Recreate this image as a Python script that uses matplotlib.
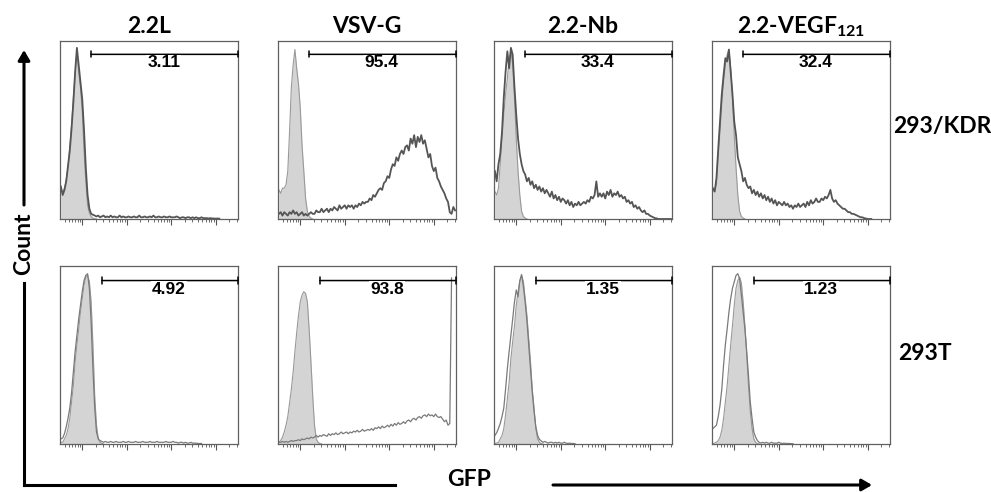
import matplotlib
matplotlib.use('Agg')
import matplotlib.pyplot as plt
import numpy as np

plt.rcParams['font.family'] = ['Lato', 'DejaVu Sans']
plt.rcParams['mathtext.fontset'] = 'custom'
plt.rcParams['mathtext.rm'] = 'Lato:bold'
plt.rcParams['mathtext.bf'] = 'Lato:bold'

# GFP channel, log10 units, 100 bins from -0.5 to 3.5
gfp = np.linspace(-0.48, 3.48, 100)

titles = ['2.2L', 'VSV-G', '2.2-Nb', r'2.2-VEGF$_{121}$']
rows = ['293/KDR', '293T']
gate_pct = [['3.11', '95.4', '33.4', '32.4'],
            ['4.92', '93.8', '1.35', '1.23']]
gate_start = [0.2, 0.44]

# row 1 : 293/KDR  (% of mode)
kdr_ctrl_22L = [17, 16, 18, 23, 30, 42, 55, 71, 84, 98, 86, 77, 63, 40, 22, 8, 3.5, 1.5, 0.5, 0.2, 0]
kdr_22L = [19, 14, 17, 22, 31, 40, 53, 68, 86, 100, 90, 80, 70, 52, 30, 14, 6, 3, 2.5, 2,
           1.5, 2, 1, 1.5, 2, 1, 1.5, 1, 2, 1,
           1.5, 1, 1, 2, 1, 1.5, 1, 1, 1.5, 1,
           1, 1.5, 1, 1, 2, 1, 1, 1.5, 1, 1,
           1.5, 1, 2, 1, 1, 1.5, 1, 1, 1.5, 1,
           1, 1.5, 1, 1, 1, 1.5, 1, 0.5, 1, 1,
           0.5, 1, 1, 0.5, 1, 0.5, 1, 0.5, 0.5, 1,
           0.5, 0.5, 0.5, 0.3, 0.5, 0.3, 0.3, 0.2, 0.3, 0.2]
kdr_ctrl_vsvg = [17, 15, 18, 18, 20, 28, 51, 77, 90, 99, 88, 79, 65, 43, 28, 12, 4.5, 1.5, 0.5, 0]
kdr_vsvg = [3, 4, 2, 4, 3, 2, 4, 3, 5, 3, 4, 2, 3, 4, 2, 3, 2, 3, 4, 3,
            3, 5, 4, 4, 6, 4, 5, 6, 4, 6,
            5, 7, 6, 5, 8, 6, 7, 8, 6, 8,
            7, 8, 6, 8, 7, 9, 8, 10, 9, 10,
            10, 12, 11, 14, 13, 15, 17, 18, 17, 21,
            22, 25, 24, 29, 32, 31, 36, 34, 38, 40,
            38, 42, 43, 40, 47, 44, 49, 42, 48, 45,
            49, 44, 46, 41, 36, 38, 31, 28, 30, 24,
            22, 19, 17, 15, 12, 10, 4, 3, 7, 5]
kdr_ctrl_nb = [16, 14, 18, 32, 47, 61, 73, 82, 94, 98, 90, 71, 47, 28, 14, 4.5, 1.5, 0.5, 0]
kdr_nb = [28, 22, 32, 38, 51, 71, 86, 98, 88, 100, 96, 77, 61, 47, 38, 32, 28, 26, 22, 24,
          20, 22, 18, 20, 17, 19, 16, 18, 15, 17,
          15, 13, 16, 12, 14, 11, 13, 10, 12, 11,
          9, 11, 8, 10, 7, 9, 8, 10, 8, 9,
          10, 9, 11, 10, 13, 12, 14, 22, 13, 15,
          13, 15, 12, 16, 14, 17, 13, 15, 14, 16,
          13, 14, 12, 13, 10, 11, 9, 10, 7, 8,
          6, 7, 5, 4, 5, 3, 3, 2, 1.5, 1,
          0.5, 0.3, 0, 0, 0, 0, 0, 0, 0, 0]
kdr_ctrl_vegf = [17, 16, 20, 36, 51, 67, 80, 90, 96, 99, 88, 71, 49, 30, 14, 4.5, 1.5, 0.5, 0]
kdr_vegf = [18, 16, 24, 41, 57, 73, 84, 94, 92, 99, 86, 73, 57, 49, 36, 32, 28, 22, 24, 20,
            18, 19, 15, 17, 14, 16, 13, 15, 12, 14,
            11, 13, 10, 12, 9, 11, 8, 10, 9, 8,
            10, 8, 9, 7, 8, 6, 8, 7, 9, 7,
            8, 9, 7, 10, 8, 11, 9, 10, 12, 10,
            10, 12, 11, 13, 12, 14, 17, 12, 10, 11,
            9, 8, 7, 6, 6, 5, 4, 4, 3, 3,
            2.5, 2, 1.5, 1, 1, 0.5, 0.3, 0, 0, 0]

# row 2 : 293T
t_ctrl_22L = [1, 1, 3, 5, 9, 15, 24.5, 34, 48, 58, 67, 77, 85, 93, 97.5, 98.5, 95, 83, 58, 28, 11, 3, 1, 0.3, 0]
t_22L = [3, 3.5, 6, 10, 15, 21, 30, 42, 54, 63.5, 73, 81, 89, 95.5, 98.5, 99.5, 91, 71, 44, 21, 7, 3, 2,
         1.5, 1, 1.5, 1, 1, 1.5, 1,
         1, 1.5, 1, 1, 1, 1.5, 1, 1, 1.5, 1,
         1, 1, 1.5, 1, 1, 1, 1.5, 1, 1, 1,
         1.5, 1, 1, 1, 1.5, 1, 1, 1, 1, 1.5,
         1, 1, 1, 1.5, 1, 1, 0.5, 1, 1, 0.5,
         1, 0.5, 0.5, 1, 0.5, 0.5, 0.5, 0.3, 0.3, 0.3]
t_ctrl_vsvg = [1, 2, 4, 7, 11, 16, 24, 32, 42, 54, 65, 75, 83, 87, 89, 88, 83, 67, 48, 28, 11, 3, 1, 0.3, 0]
t_vsvg = [1, 1, 1.5, 1, 1.5, 1, 1.5, 2, 1.5, 2,
          2, 2.5, 2, 3, 2.5, 3, 3.5, 3, 4, 3.5,
          4, 5, 4, 5, 4.5, 5.5, 5, 4.5, 6, 5,
          6, 5.5, 6.5, 5.5, 6, 7, 6, 6.5, 7, 6,
          7, 6.5, 7.5, 7, 8, 7, 7.5, 8.5, 7.5, 8,
          8.5, 8, 9, 8, 9.5, 9, 10, 9, 10.5, 9.5,
          10, 11, 10, 11.5, 10.5, 12, 11, 12.5, 11.5, 12,
          13, 12, 13.5, 14, 13, 14.5, 15, 14, 15.5, 16,
          15, 16.5, 17, 16, 17.5, 16.5, 17, 16, 17.5, 16,
          15.5, 16, 14.5, 13, 14, 11, 12, 97]
t_ctrl_nb = [0.2, 0.6, 1, 3, 5, 9, 17, 26.5, 36, 50, 60, 69, 81, 89, 95, 98.5, 95, 85, 75, 61.5,
             48, 32, 21, 9, 3, 1, 0.3, 0]
t_nb = [5, 6.6, 9, 12, 16, 21, 32, 44, 54, 63.5, 73, 83, 90, 86, 95.5, 99, 92, 83, 72, 58,
        44, 30, 19, 10, 5, 2.7, 1.8,
        1, 1.5, 1, 0.5, 1, 1, 0.5, 1, 0.5, 1, 0.5, 0.5, 1, 0.5, 0.3, 0.5, 0.3, 0.3, 0.2]
t_ctrl_vegf = [0.2, 0.6, 1, 2, 4, 8, 15, 24.5, 34, 46, 58, 69, 81, 91, 95.5, 97.5, 94, 83, 69, 52,
               34, 19, 9, 3, 1, 0.3, 0]
t_vegf = [9, 10, 11, 16, 22.6, 32, 46, 58, 67, 77, 85, 91, 94.7, 98.5, 99.5, 96.6, 87, 77, 67, 54,
          40, 24.5, 15, 7, 4, 2, 1,
          0.5, 1, 0.5, 1, 0.5, 0.5, 1, 0.5, 0.5, 0.5, 1, 0.5, 0.3, 0.5, 0.3, 0.3, 0.3, 0.2, 0.2]

controls = [[kdr_ctrl_22L, kdr_ctrl_vsvg, kdr_ctrl_nb, kdr_ctrl_vegf],
            [t_ctrl_22L, t_ctrl_vsvg, t_ctrl_nb, t_ctrl_vegf]]
samples = [[kdr_22L, kdr_vsvg, kdr_nb, kdr_vegf],
           [t_22L, t_vsvg, t_nb, t_vegf]]

W, H = 991, 492
fig = plt.figure(figsize=(W / 100, H / 100), dpi=100)

col_left = [60, 278, 494, 712]
row_top = [41, 266]
size = 178
minor = [np.log10(m) + k for k in range(-1, 4) for m in range(2, 10)]
minor = [m for m in minor if -0.5 < m < 3.5]

line_col = ['#555555', '#7a7a7a']
line_w = [1.3, 0.9]

for r in range(2):
    for c in range(4):
        ax = fig.add_axes([col_left[c] / W, 1 - (row_top[r] + size) / H, size / W, size / H])
        ctrl = controls[r][c]
        smp = samples[r][c]
        ax.fill_between(gfp[:len(ctrl)], ctrl, color='#d4d4d4', lw=0)
        ax.plot(gfp[:len(ctrl)], ctrl, color='#999999', lw=0.8)
        ax.plot(gfp[:len(smp)], smp, color=line_col[r], lw=line_w[r])
        ax.set_xlim(-0.5, 3.5)
        ax.set_ylim(0, 104)
        ax.set_yticks([])
        ax.set_xticks([0, 1, 2, 3])
        ax.set_xticks(minor, minor=True)
        ax.set_xticklabels([])
        ax.tick_params(axis='x', which='major', length=4, width=0.8, color='#555555')
        ax.tick_params(axis='x', which='minor', length=2, width=0.6, color='#555555')
        for s in ax.spines.values():
            s.set_color('#606060')
            s.set_linewidth(0.9)

        gy = 96.2 if r == 0 else 95.5
        x0 = gate_start[r]
        ax.annotate('', xy=(3.5, gy), xytext=(x0, gy),
                    arrowprops=dict(arrowstyle='|-|, widthA=0.22, widthB=0.22',
                                    lw=1.1, color='black', shrinkA=0, shrinkB=0))
        ax.text((x0 + 3.5) / 2 - 0.02, gy - 5.0, gate_pct[r][c], ha='center', va='center',
                fontsize=12.5, fontweight='bold', family=['Liberation Sans'],
                bbox=dict(facecolor='white', edgecolor='none', pad=0.5))

        if r == 0:
            ax.set_title(titles[c], fontsize=16.5, fontweight='bold', pad=6)

fig.text(893 / W, 1 - 127 / H, rows[0], fontsize=16.5, fontweight='bold', ha='left', va='center')
fig.text(898 / W, 1 - 353 / H, rows[1], fontsize=16.5, fontweight='bold', ha='left', va='center')

# axis arrows (Count / GFP)
lw_ax = 2.2
fig.add_artist(plt.Line2D([24 / W, 24 / W], [1 - 485 / H, 1 - 283 / H], color='black', lw=lw_ax))
fig.add_artist(plt.Line2D([24 / W, 395 / W], [1 - 485 / H, 1 - 485 / H], color='black', lw=lw_ax))
fig.patches.append(matplotlib.patches.FancyArrowPatch((24 / W, 1 - 205 / H), (24 / W, 1 - 50 / H),
                   transform=fig.transFigure, arrowstyle='-|>,head_length=6,head_width=3.5',
                   lw=lw_ax, color='black', shrinkA=0, shrinkB=0))
fig.patches.append(matplotlib.patches.FancyArrowPatch((553 / W, 1 - 485 / H), (872 / W, 1 - 485 / H),
                   transform=fig.transFigure, arrowstyle='-|>,head_length=6,head_width=3.5',
                   lw=lw_ax, color='black', shrinkA=0, shrinkB=0))
fig.text(24 / W, 1 - 244 / H, 'Count', rotation=90, fontsize=16.5, fontweight='bold',
         ha='center', va='center')
fig.text(469 / W, 1 - 480 / H, 'GFP', fontsize=16.5, fontweight='bold', ha='center', va='center')

fig.savefig('out.png', dpi=100)
